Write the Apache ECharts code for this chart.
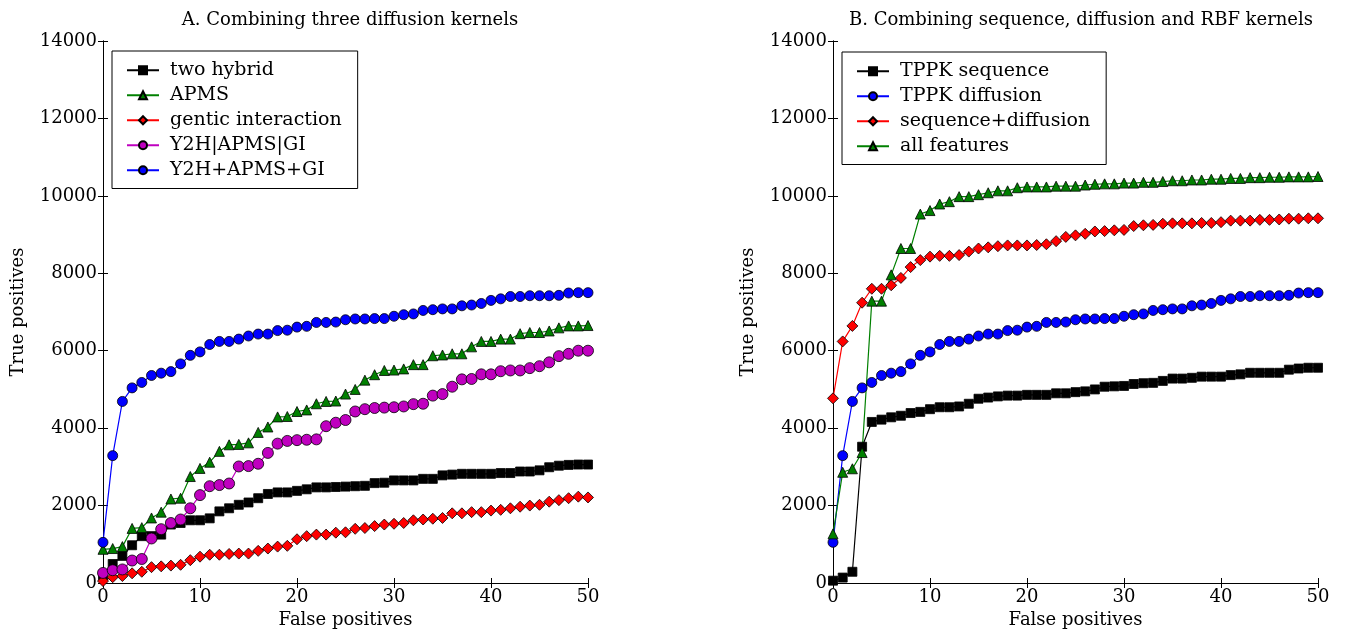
<!DOCTYPE html>
<html>
<head>
<meta charset="utf-8">
<script src="https://cdn.jsdelivr.net/npm/echarts@6/dist/echarts.min.js"></script>
<style>
  html, body { margin: 0; padding: 0; background: #fff; }
  #main { width: 1345px; height: 634px; }
</style>
</head>
<body>
<div id="main"></div>
<script>
// false positives (x)
var falsePos = [0,1,2,3,4,5,6,7,8,9,10,11,12,13,14,15,16,17,18,19,20,21,22,23,24,25,
  26,27,28,29,30,31,32,33,34,35,36,37,38,39,40,41,42,43,44,45,46,47,48,49,50];

/* A. three diffusion kernels */
var twoHybrid = [200,490,700,975,1210,1210,1250,1510,1550,1620,1620,1670,1850,1930,2020,2080,2190,2300,2340,2340,
  2380,2420,2470,2470,2480,2490,2500,2510,2580,2590,2650,2650,2650,2690,2690,2780,2800,2820,2820,2820,
  2820,2840,2840,2880,2880,2910,2990,3030,3050,3060,3060];
var apms = [870,890,940,1410,1430,1680,1830,2170,2190,2750,2960,3120,3400,3570,3580,3620,3890,4030,4290,4300,
  4430,4470,4630,4690,4700,4880,5000,5240,5380,5490,5500,5530,5640,5640,5870,5890,5920,5920,6100,6240,
  6240,6300,6300,6440,6470,6470,6510,6590,6640,6640,6650];
var gentic = [50,150,180,250,290,410,430,450,470,590,680,730,730,750,760,760,830,890,940,960,
  1130,1210,1250,1250,1300,1310,1400,1420,1470,1510,1530,1550,1620,1640,1660,1680,1800,1800,1830,1830,
  1870,1890,1930,1970,2000,2020,2100,2140,2190,2230,2210];
var y2hOr = [260,330,350,580,620,1150,1390,1550,1640,1930,2270,2500,2530,2570,3010,3020,3080,3360,3600,3670,
  3690,3700,3710,4050,4140,4210,4430,4490,4520,4530,4540,4560,4620,4630,4840,4880,5070,5260,5270,5390,
  5390,5470,5490,5490,5550,5600,5700,5860,5920,6000,6000];
var y2hSum = [1050,3290,4690,5040,5180,5360,5420,5460,5660,5880,5970,6160,6240,6240,6300,6380,6430,6430,6520,6530,
  6610,6630,6730,6730,6740,6800,6820,6820,6830,6830,6890,6930,6950,7040,7060,7080,7080,7160,7180,7220,
  7300,7340,7400,7400,7420,7420,7420,7430,7490,7500,7500];

/* B. sequence, diffusion and RBF kernels */
var tppkSeq = [60,140,290,3520,4160,4220,4280,4320,4390,4420,4490,4540,4540,4560,4630,4760,4790,4820,4840,4840,
  4860,4860,4860,4900,4900,4930,4950,5000,5070,5080,5090,5140,5160,5170,5220,5280,5280,5300,5330,5330,
  5330,5370,5390,5430,5430,5430,5430,5510,5540,5560,5560];
var tppkDiff = y2hSum;
var seqDiff = [4770,6240,6640,7240,7600,7600,7690,7880,8160,8340,8430,8450,8450,8470,8560,8640,8670,8700,8720,8720,
  8720,8730,8750,8830,8940,8980,9020,9080,9090,9110,9120,9220,9240,9250,9280,9290,9290,9290,9300,9300,
  9320,9360,9360,9360,9380,9380,9390,9410,9410,9420,9420];
var allFeat = [1270,2860,2950,3370,7280,7280,7960,8640,8640,9530,9620,9790,9850,9980,9980,10030,10080,10130,10130,10210,
  10230,10230,10230,10250,10250,10250,10280,10300,10310,10310,10330,10330,10350,10350,10370,10390,10390,10410,10410,10430,
  10430,10450,10450,10470,10470,10480,10480,10490,10490,10490,10500];

var xTicks = [0, 10, 20, 30, 40, 50];
var yTicks = [0, 2000, 4000, 6000, 8000, 10000, 12000, 14000];

var FONT = 'DejaVu Serif';

function pairs(ys) {
    return falsePos.map(function (x, i) { return [x, ys[i]]; });
}

function mkLine(name, ys, color, symbol, gi, size) {
    return {
        name: name,
        type: 'line',
        xAxisIndex: gi * 2,
        yAxisIndex: gi * 2,
        data: pairs(ys),
        symbol: symbol,
        symbolSize: size || 10,
        showAllSymbol: true,
        lineStyle: { color: color, width: 1.2 },
        itemStyle: { color: color, borderColor: '#000', borderWidth: 0.8 },
        emphasis: { disabled: true }
    };
}

function xAxes(gi) {
    var base = {
        type: 'value', gridIndex: gi,
        min: xTicks[0], max: xTicks[xTicks.length - 1], interval: 10,
        axisLine: { show: true, lineStyle: { color: '#000', width: 1 } },
        axisTick: { show: true, inside: true, length: 5, lineStyle: { color: '#000' } },
        splitLine: { show: false }
    };
    return [
        Object.assign({}, base, {
            position: 'bottom',
            name: 'False positives', nameLocation: 'middle', nameGap: 28,
            nameTextStyle: { fontFamily: FONT, fontSize: 18, color: '#000' },
            axisLabel: { fontFamily: FONT, fontSize: 18, color: '#000', margin: 5 }
        }),
        Object.assign({}, base, { position: 'top', axisLabel: { show: false } })
    ];
}

function yAxes(gi) {
    var base = {
        type: 'value', gridIndex: gi,
        min: yTicks[0], max: yTicks[yTicks.length - 1], interval: 2000,
        axisLine: { show: true, lineStyle: { color: '#000', width: 1 } },
        axisTick: { show: true, inside: true, length: 5, lineStyle: { color: '#000' } },
        splitLine: { show: false }
    };
    return [
        Object.assign({}, base, {
            position: 'left',
            name: 'True positives', nameLocation: 'middle', nameGap: 76,
            nameTextStyle: { fontFamily: FONT, fontSize: 18, color: '#000' },
            axisLabel: { fontFamily: FONT, fontSize: 18, color: '#000', margin: 6,
                         formatter: function (v) { return String(v); } }
        }),
        Object.assign({}, base, { position: 'right', axisLabel: { show: false } })
    ];
}

function mkLegend(names, left, top) {
    return {
        data: names,
        orient: 'vertical',
        left: left, top: top,
        itemWidth: 32, itemHeight: 10, itemGap: 4.5,
        padding: [9, 16, 8, 14],
        borderColor: '#000', borderWidth: 1,
        backgroundColor: '#fff',
        textStyle: { fontFamily: FONT, fontSize: 19, color: '#000', lineHeight: 20.5, padding: [0, 0, 0, 6] }
    };
}

var myChart = echarts.init(document.getElementById('main'));
var option = {
    animation: false,
    backgroundColor: '#fff',
    title: [
        { text: 'A. Combining three diffusion kernels', left: 345, top: 6, textAlign: 'center',
          textStyle: { fontFamily: FONT, fontSize: 18, fontWeight: 'normal', color: '#000' } },
        { text: 'B. Combining sequence, diffusion and RBF kernels', left: 1076, top: 6, textAlign: 'center',
          textStyle: { fontFamily: FONT, fontSize: 18, fontWeight: 'normal', color: '#000' } }
    ],
    grid: [
        { left: 103, top: 41, width: 485, height: 546 },
        { left: 833, top: 41, width: 485, height: 546 }
    ],
    xAxis: xAxes(0).concat(xAxes(1)),
    yAxis: yAxes(0).concat(yAxes(1)),
    legend: [
        mkLegend(['two hybrid', 'APMS', 'gentic interaction', 'Y2H|APMS|GI', 'Y2H+APMS+GI'], 112, 51),
        mkLegend(['TPPK sequence', 'TPPK diffusion', 'sequence+diffusion', 'all features'], 842, 52)
    ],
    series: [
        mkLine('two hybrid', twoHybrid, '#000000', 'rect', 0, 9),
        mkLine('APMS', apms, '#008000', 'triangle', 0, 10),
        mkLine('gentic interaction', gentic, '#ff0000', 'diamond', 0, 11),
        mkLine('Y2H|APMS|GI', y2hOr, '#bf00bf', 'circle', 0, 11),
        mkLine('Y2H+APMS+GI', y2hSum, '#0000ff', 'circle', 0, 10),
        mkLine('TPPK sequence', tppkSeq, '#000000', 'rect', 1, 9),
        mkLine('TPPK diffusion', tppkDiff, '#0000ff', 'circle', 1, 10),
        mkLine('sequence+diffusion', seqDiff, '#ff0000', 'diamond', 1, 11),
        mkLine('all features', allFeat, '#008000', 'triangle', 1, 10)
    ]
};
myChart.setOption(option);
</script>
</body>
</html>
